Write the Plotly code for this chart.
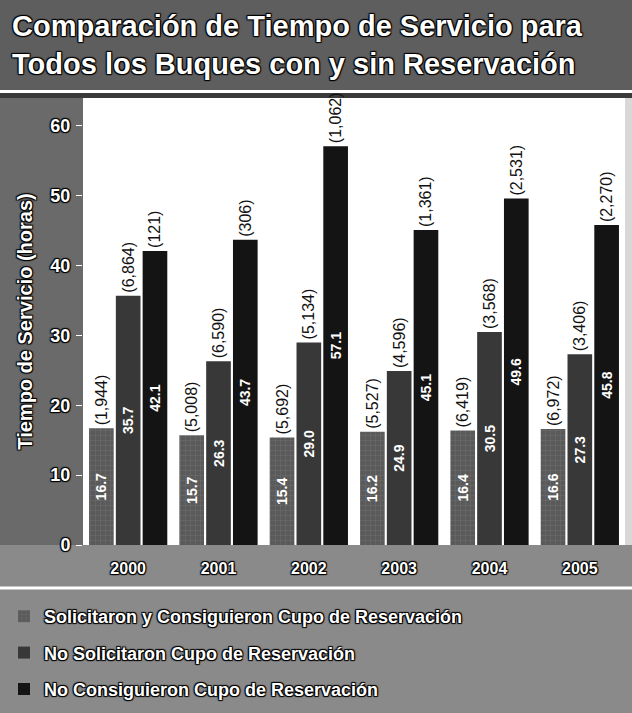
import plotly.graph_objects as go

# ---- data ----
years = ["2000", "2001", "2002", "2003", "2004", "2005"]
series_names = [
    "Solicitaron y Consiguieron Cupo de Reservación",
    "No Solicitaron Cupo de Reservación",
    "No Consiguieron Cupo de Reservación",
]
hours_sc = [16.7, 15.7, 15.4, 16.2, 16.4, 16.6]
hours_ns = [35.7, 26.3, 29.0, 24.9, 30.5, 27.3]
hours_nc = [42.1, 43.7, 57.1, 45.1, 49.6, 45.8]
count_sc = ["(1,944)", "(5,008)", "(5,692)", "(5,527)", "(6,419)", "(6,972)"]
count_ns = ["(6,864)", "(6,590)", "(5,134)", "(4,596)", "(3,568)", "(3,406)"]
count_nc = ["(121)", "(306)", "(1,062)", "(1,361)", "(2,531)", "(2,270)"]
y_ticks = [0, 10, 20, 30, 40, 50, 60]
title_text = "Comparación de Tiempo de Servicio para<br>Todos los Buques con y sin Reservación"

# ---- style ----
W, H = 632, 713
L, R, T, B = 83, 7, 98, 168
colors = ["#5a5a5a", "#383838", "#141414"]
shadow = "1px 1px 1px #000, -1px -1px 1px #000, 1px -1px 1px #000, -1px 1px 1px #000"
title_bg = "#5e5e5e"
side_bg = "#6a6a6a"
band_bg = "#8a8a8a"
FONT = "Arial, Liberation Sans"

fig = go.Figure()
all_hours = [hours_sc, hours_ns, hours_nc]
all_counts = [count_sc, count_ns, count_nc]
patterns = ["+", "", ""]

for i in range(3):
    fig.add_trace(go.Bar(
        x=years, y=all_hours[i], name=series_names[i],
        offsetgroup=str(i), legendgroup=str(i),
        marker=dict(color=colors[i], line=dict(width=0),
                    pattern=dict(shape=patterns[i], fgcolor="#8c8c8c", size=5, solidity=0.15)),
        text=[f"{v:.1f}" for v in all_hours[i]],
        textposition="inside", insidetextanchor="middle", textangle=-90,
        textfont=dict(family=FONT, size=14, color="white", weight="bold"),
        cliponaxis=False, hoverinfo="skip",
    ))
    fig.add_trace(go.Bar(
        x=years, y=all_hours[i], name=series_names[i],
        offsetgroup=str(i), legendgroup=str(i), showlegend=False,
        marker=dict(color="rgba(0,0,0,0)", line=dict(width=0)),
        text=all_counts[i], textposition="outside", textangle=-90, constraintext="none",
        textfont=dict(family=FONT, size=16, color="#111"),
        cliponaxis=False, hoverinfo="skip",
    ))

plot_h = H - T - B
plot_w = W - L - R

def py(pix):
    return (H - B - pix) / plot_h

def px(pix):
    return (pix - L) / plot_w

shapes = [
    dict(type="rect", xref="paper", yref="paper", x0=px(0), x1=px(W), y0=py(90), y1=py(0),
         fillcolor=title_bg, line=dict(width=0), layer="below"),
    dict(type="rect", xref="paper", yref="paper", x0=px(0), x1=px(W), y0=py(93), y1=py(90),
         fillcolor="white", line=dict(width=0), layer="below"),
    dict(type="rect", xref="paper", yref="paper", x0=px(0), x1=px(W), y0=py(T), y1=py(93),
         fillcolor="#3a3a3a", line=dict(width=0), layer="below"),
    dict(type="rect", xref="paper", yref="paper", x0=px(0), x1=0, y0=py(H - B), y1=py(T),
         fillcolor=side_bg, line=dict(width=0), layer="below"),
    dict(type="rect", xref="paper", yref="paper", x0=1, x1=px(W), y0=py(H - B), y1=py(T),
         fillcolor="#d8d8d8", line=dict(width=0), layer="below"),
    dict(type="line", xref="paper", yref="paper", x0=px(0), x1=px(W), y0=py(588), y1=py(588),
         line=dict(color="white", width=3)),
]

fig.update_layout(
    width=W, height=H,
    margin=dict(l=L, r=R, t=T, b=B, autoexpand=False),
    paper_bgcolor=band_bg, plot_bgcolor="white",
    barmode="group", bargap=0.11, bargroupgap=0.08,
    shapes=shapes,
    annotations=[dict(
        text=title_text, xref="paper", yref="paper", x=px(10), y=py(8),
        xanchor="left", yanchor="top", align="left", showarrow=False,
        font=dict(family=FONT, size=29, color="white", weight="bold", shadow=shadow),
    )],
    xaxis=dict(
        showgrid=False, zeroline=False, showline=False, ticks="", tickangle=0,
        tickfont=dict(family=FONT, size=16, color="white", weight="bold", shadow=shadow),
        ticklabelstandoff=12,
    ),
    yaxis=dict(
        range=[0, 64], tickvals=y_ticks, showgrid=False, zeroline=False, showline=False,
        ticks="outside", ticklen=6, tickcolor="white", ticklabelstandoff=2,
        tickfont=dict(family=FONT, size=18, color="white", weight="bold", shadow=shadow),
        title=dict(text="Tiempo de Servicio (horas)", standoff=12,
                   font=dict(family=FONT, size=20, color="white", weight="bold", shadow=shadow)),
    ),
    legend=dict(
        x=px(4), xanchor="left", y=py(598), yanchor="top",
        bgcolor="rgba(0,0,0,0)", tracegroupgap=10,
        font=dict(family=FONT, size=18, color="white", weight="bold", shadow=shadow),
        itemwidth=30,
    ),
    showlegend=True,
)

fig.write_html("out.html", config={"displayModeBar": False},
               post_script="document.body.style.margin='0px';")
